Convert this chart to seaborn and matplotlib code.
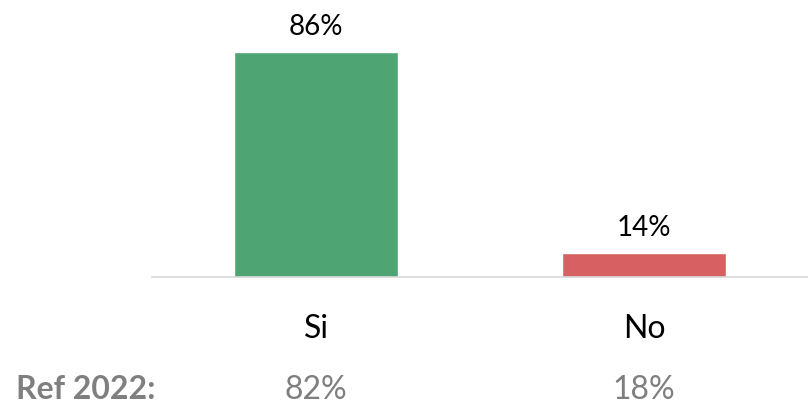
import matplotlib
matplotlib.use("Agg")
import matplotlib.pyplot as plt
import matplotlib.transforms as mtransforms
import seaborn as sns

# data
categorie = ["Si", "No"]
valori = [86, 14]
ref_label = "Ref 2022:"
ref_valori = [82, 18]
colori = ["#4EA472", "#D66062"]

sns.set_theme(style="white")
plt.rcParams['font.family'] = ['Lato', 'DejaVu Sans']

fig = plt.figure(figsize=(8.08, 4.06), dpi=100)
ax = fig.add_axes([152 / 808, (406 - 278) / 406, 1 - 152 / 808, (278 - 53) / 406])

sns.barplot(x=categorie, y=valori, hue=categorie, palette=colori,
            width=0.5, legend=False, ax=ax, saturation=1)

ax.set_xlim(-0.5, 1.5)
ax.set_ylim(5.4, 86)
for c in ax.containers:
    ax.bar_label(c, labels=[f"{int(round(v))}%" for v in c.datavalues],
                 padding=9, fontsize=20, color="black")

# only the bottom axis line
for s in ["left", "right", "top"]:
    ax.spines[s].set_visible(False)
ax.spines["bottom"].set_color("#D9D9D9")
ax.spines["bottom"].set_linewidth(1.2)
ax.set_yticks([])
ax.tick_params(axis="x", length=0, pad=26, labelsize=23, labelcolor="black")
ax.set_xlabel("")
ax.set_ylabel("")

# riga di riferimento 2022
trans = mtransforms.blended_transform_factory(ax.transData, fig.transFigure)
y_ref = (406 - 399) / 406
fig.text(16 / 808, y_ref, ref_label, fontsize=23, fontweight="bold",
         color="#7F7F7F", va="baseline", ha="left")
for i, v in enumerate(ref_valori):
    ax.text(i, y_ref, f"{v}%", transform=trans, fontsize=23, color="#7F7F7F",
            ha="center", va="baseline", clip_on=False)

fig.savefig("out.png", dpi=100)
